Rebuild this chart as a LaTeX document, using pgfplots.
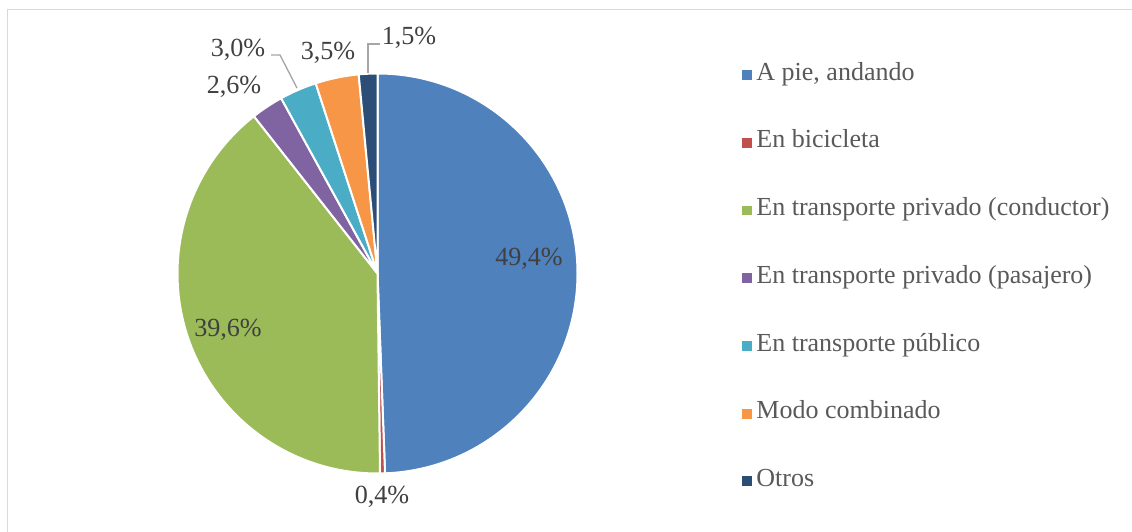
\documentclass[border=0pt]{standalone}
\usepackage{pgfplots}
\pgfplotsset{compat=1.18}
\usepackage{pgfplotstable}
\usepackage{fontspec}
\setmainfont{Liberation Serif}
\definecolor{c0}{HTML}{4F81BD}
\definecolor{c1}{HTML}{C0504D}
\definecolor{c2}{HTML}{9BBB59}
\definecolor{c3}{HTML}{8064A2}
\definecolor{c4}{HTML}{4BACC6}
\definecolor{c5}{HTML}{F79646}
\definecolor{c6}{HTML}{2C4D75}
\definecolor{txt}{HTML}{404040}
\definecolor{legtxt}{HTML}{595959}
\definecolor{frm}{HTML}{D9D9D9}
\definecolor{lead}{HTML}{A6A6A6}

\pgfplotstableread{
idx value
0 49.4
1 0.4
2 39.6
3 2.6
4 3.0
5 3.5
6 1.5
}\piedata

\begin{document}
\begin{tikzpicture}
\pgfmathsetmacro{\acc}{90}
\pgfplotsforeachungrouped \i in {0,...,6}{%
  \pgfplotstablegetelem{\i}{value}\of\piedata
  \pgfmathsetmacro{\vv}{\pgfplotsretval}%
  \expandafter\xdef\csname sa\i\endcsname{\acc}%
  \pgfmathsetmacro{\acc}{\acc-3.6*\vv}%
  \expandafter\xdef\csname ea\i\endcsname{\acc}%
}
\begin{axis}[
  scale only axis, width=849pt, height=399pt,
  xmin=0, xmax=1132, ymin=0, ymax=532,
  hide axis, clip=false,
  legend cell align=left,
  legend style={at={(axis cs:737.5,469.5)}, anchor=north west, draw=none, fill=none,
    font=\fontsize{19.5pt}{22pt}\selectfont, text=legtxt,
    row sep=36.8pt,
    nodes={inner sep=0pt, text height=11pt, text depth=3pt}},
]
\pgfplotsinvokeforeach{0,...,6}{%
  \fill[fill=c#1, draw=white, line width=1.5pt, line join=round]
    (axis cs:377.5,258.5) -- ([shift={(\csname sa#1\endcsname:150pt)}]axis cs:377.5,258.5)
    arc[start angle=\csname sa#1\endcsname, end angle=\csname ea#1\endcsname, radius=150pt] -- cycle;
}
\addlegendimage{legend image code/.code={\fill[c0] (0pt,-3.3pt) rectangle (6.6pt,3.3pt); \path (10.6pt,0pt);}}
\addlegendentry{A pie, andando}
\addlegendimage{legend image code/.code={\fill[c1] (0pt,-3.3pt) rectangle (6.6pt,3.3pt); \path (10.6pt,0pt);}}
\addlegendentry{En bicicleta}
\addlegendimage{legend image code/.code={\fill[c2] (0pt,-3.3pt) rectangle (6.6pt,3.3pt); \path (10.6pt,0pt);}}
\addlegendentry{En transporte privado (conductor)}
\addlegendimage{legend image code/.code={\fill[c3] (0pt,-3.3pt) rectangle (6.6pt,3.3pt); \path (10.6pt,0pt);}}
\addlegendentry{En transporte privado (pasajero)}
\addlegendimage{legend image code/.code={\fill[c4] (0pt,-3.3pt) rectangle (6.6pt,3.3pt); \path (10.6pt,0pt);}}
\addlegendentry{En transporte público}
\addlegendimage{legend image code/.code={\fill[c5] (0pt,-3.3pt) rectangle (6.6pt,3.3pt); \path (10.6pt,0pt);}}
\addlegendentry{Modo combinado}
\addlegendimage{legend image code/.code={\fill[c6] (0pt,-3.3pt) rectangle (6.6pt,3.3pt); \path (10.6pt,0pt);}}
\addlegendentry{Otros}
% data labels
\begin{scope}[every node/.style={font=\fontsize{19.6pt}{22pt}\selectfont, text=txt, inner sep=0pt}]
\node at (axis cs:529,273) {49,4\%};
\node at (axis cs:228,202) {39,6\%};
\node at (axis cs:382,35) {0,4\%};
\node at (axis cs:234,445) {2,6\%};
\node at (axis cs:238,482) {3,0\%};
\node at (axis cs:328,479) {3,5\%};
\node at (axis cs:409,494) {1,5\%};
\end{scope}
\draw[lead, line width=1pt] (axis cs:271,477) -- (axis cs:280,477) -- (axis cs:297,444);
\draw[lead, line width=1pt] (axis cs:368,459) -- (axis cs:368,488) -- (axis cs:380,488);
% chart frame
\draw[frm, line width=1.1pt] (axis cs:7.5,0) -- (axis cs:7.5,522.5) -- (axis cs:1132,522.5);
\end{axis}
\pgfresetboundingbox
\path (0,0) rectangle (849pt,399pt);
\end{tikzpicture}
\end{document}
